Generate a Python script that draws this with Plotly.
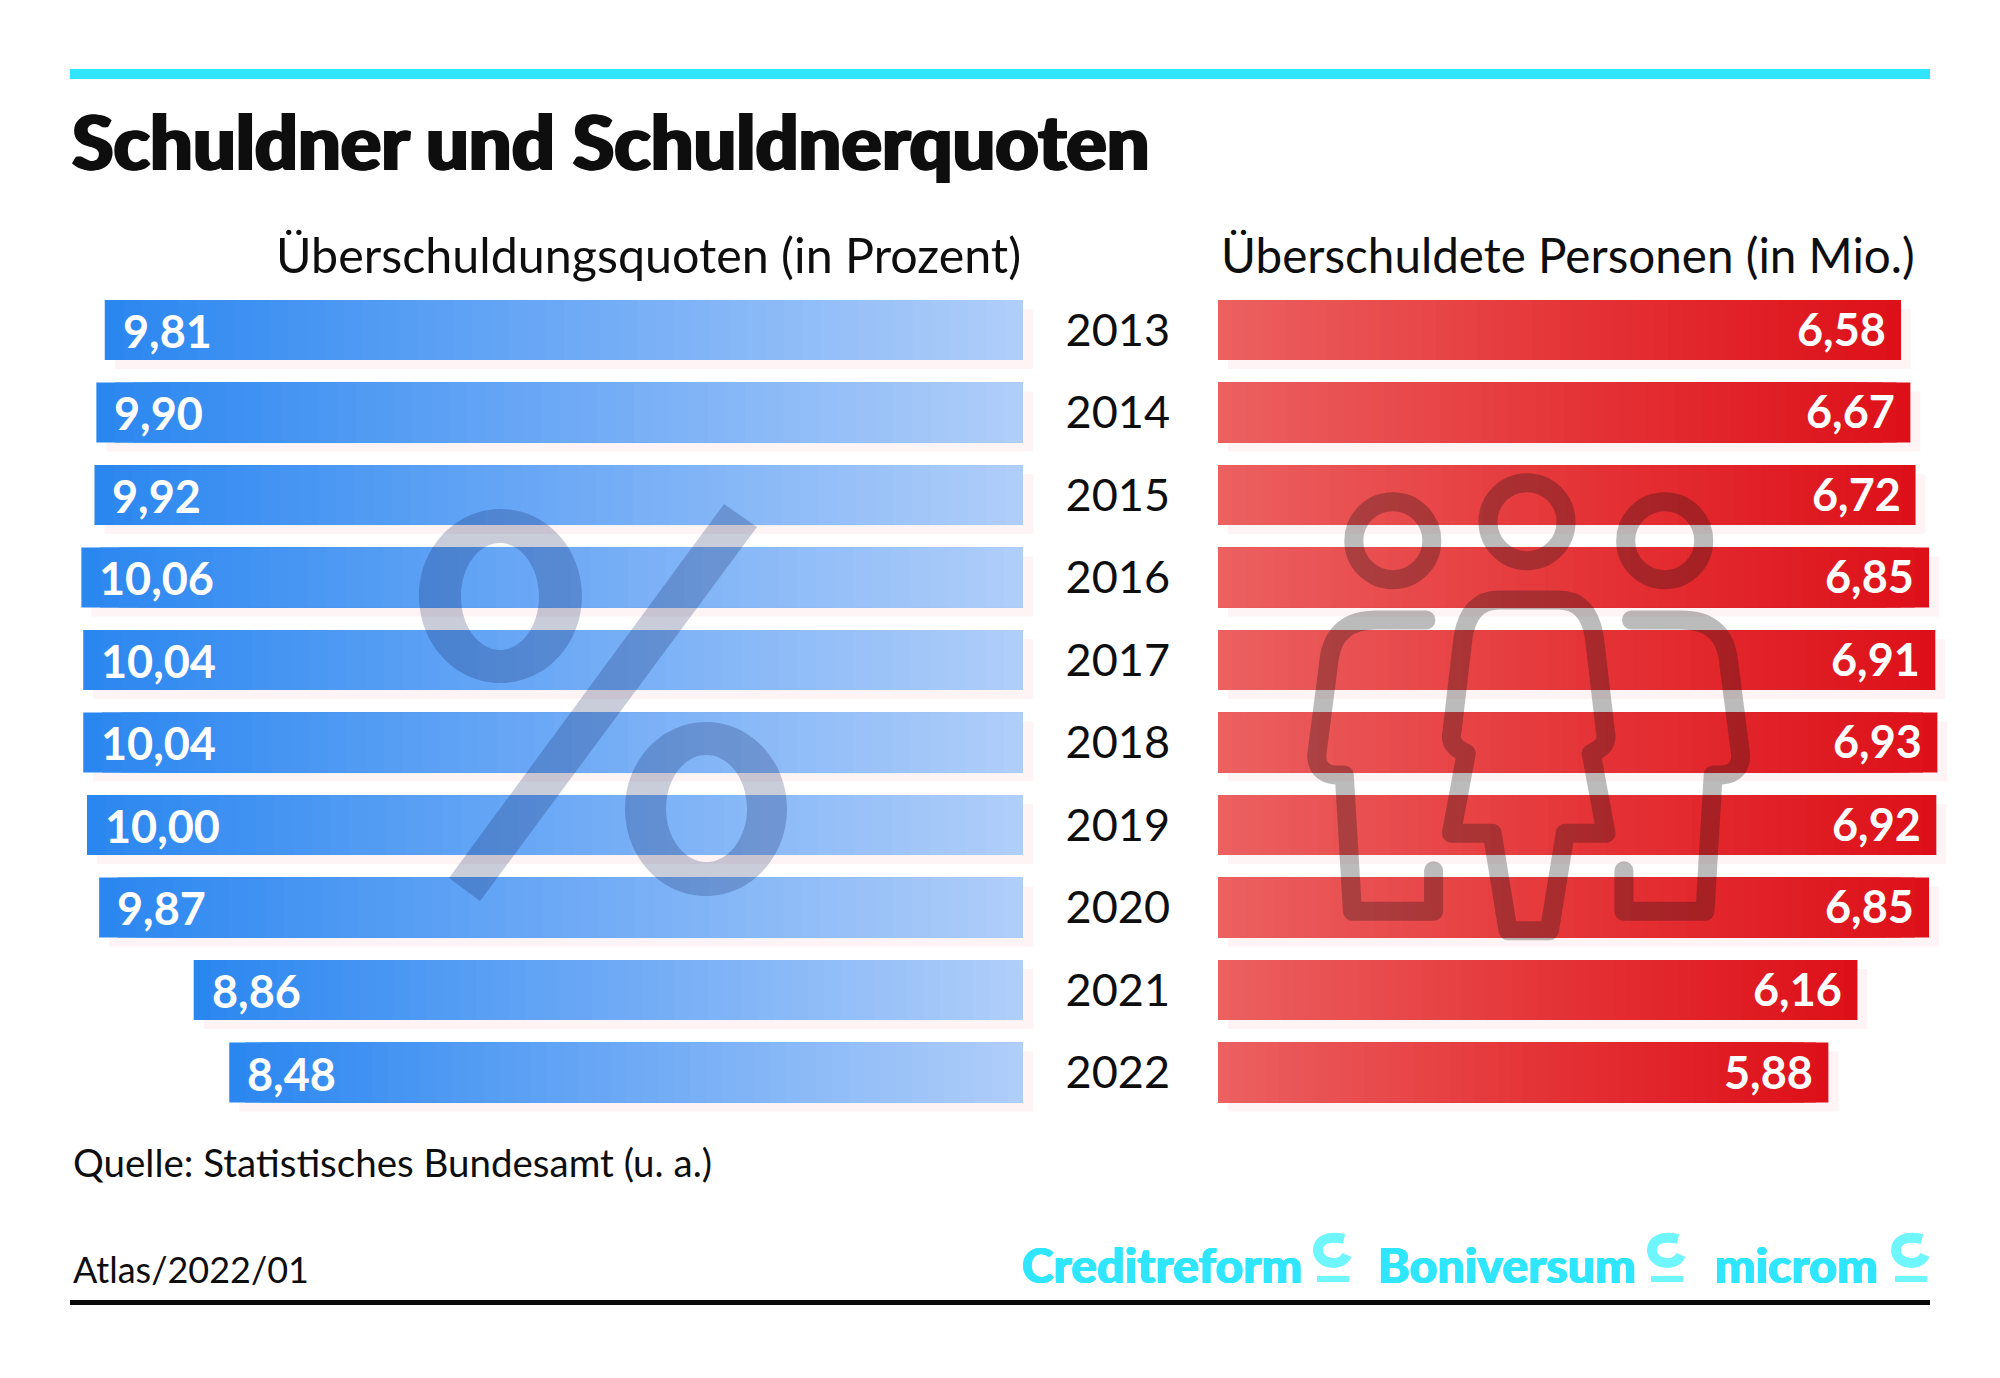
import plotly.graph_objects as go

# ---------- data ----------
years = ["2013", "2014", "2015", "2016", "2017", "2018", "2019", "2020", "2021", "2022"]
quoten = [9.81, 9.90, 9.92, 10.06, 10.04, 10.04, 10.00, 9.87, 8.86, 8.48]
personen = [6.58, 6.67, 6.72, 6.85, 6.91, 6.93, 6.92, 6.85, 6.16, 5.88]
title_text = "Schuldner und Schuldnerquoten"
head_left = "Überschuldungsquoten (in Prozent)"
head_right = "Überschuldete Personen (in Mio.)"
source_text = "Quelle: Statistisches Bundesamt (u. a.)"
atlas_text = "Atlas/2022/01"
brands = ["Creditreform", "Boniversum", "microm"]

# ---------- style ----------
W, H = 2000, 1378
BODY = "Lato, 'Noto Sans', sans-serif"
INK = "#0e0e0e"
CYAN = "#2fe6fe"
CYAN2 = "#6ff6fd"
BLUE_RAMP = [(43, 135, 240), (110, 170, 246), (178, 207, 249)]
RED_RAMP = [(236, 98, 98), (229, 54, 57), (221, 16, 25)]
STEPS = 50
BAR_W = 60 / 82.5


def ramp(stops, t):
    t = max(0.0, min(1.0, t)) * (len(stops) - 1)
    i = min(int(t), len(stops) - 2)
    f = t - i
    c = [round(stops[i][j] + (stops[i + 1][j] - stops[i][j]) * f) for j in range(3)]
    return f"rgb({c[0]},{c[1]},{c[2]})"


def gradient_trace(vals, stops, xa, ya, dark_first):
    # Nested bars from the axis zero: each narrower one repaints the part nearer to zero.
    ys, xs, cols = [], [], []
    for k in range(STEPS):
        frac = 1 - k / STEPS
        for yr, v in zip(years, vals):
            ys.append(yr)
            xs.append(v * frac)
            cols.append(ramp(stops, 1 - frac if dark_first else frac))
    return go.Bar(y=ys, x=xs, orientation="h", width=BAR_W, xaxis=xa, yaxis=ya,
                  marker=dict(color=cols, line=dict(width=0)), hoverinfo="skip", showlegend=False)


def shadow_trace(vals, base, xa, ya):
    return go.Bar(y=years, x=vals, base=base, orientation="h", width=BAR_W,
                  offset=-BAR_W / 2 + 9 / 82.5, xaxis=xa, yaxis=ya,
                  marker=dict(color="#fef4f5", line=dict(width=0)),
                  hoverinfo="skip", showlegend=False)


fig = go.Figure()
fig.add_trace(shadow_trace(quoten, -0.107, "x", "y"))
fig.add_trace(shadow_trace(personen, 0.096, "x2", "y2"))
fig.add_trace(gradient_trace(quoten, BLUE_RAMP, "x", "y", True))
fig.add_trace(gradient_trace(personen, RED_RAMP, "x2", "y2", False))


# ---------- decorative geometry ----------
def fx(px):
    return px / W


def fy(px):
    return 1 - px / H


def P(x, y):
    return f"{fx(x):.5f},{fy(y):.5f}"


def ellipse(x0, y0, x1, y1):
    cx, cy, rx, ry = (x0 + x1) / 2, (y0 + y1) / 2, (x1 - x0) / 2, (y1 - y0) / 2
    k = 0.5523
    return (f"M{P(cx - rx, cy)} C{P(cx - rx, cy - k * ry)} {P(cx - k * rx, cy - ry)} {P(cx, cy - ry)} "
            f"C{P(cx + k * rx, cy - ry)} {P(cx + rx, cy - k * ry)} {P(cx + rx, cy)} "
            f"C{P(cx + rx, cy + k * ry)} {P(cx + k * rx, cy + ry)} {P(cx, cy + ry)} "
            f"C{P(cx - k * rx, cy + ry)} {P(cx - rx, cy + k * ry)} {P(cx - rx, cy)} Z")


shapes = []
ICON = "#0a1550"


def rect(x0, y0, x1, y1, color):
    shapes.append(dict(type="rect", xref="paper", yref="paper", x0=fx(x0), x1=fx(x1), y0=fy(y0), y1=fy(y1),
                       fillcolor=color, line=dict(width=0), layer="above"))


rect(70, 69, 1930, 79, CYAN)
rect(70, 1300, 1930, 1305, "#0a0a0a")

# percent icon
pct = (ellipse(419, 509, 582, 683) + " " + ellipse(461, 543, 539, 650) + " " +
       ellipse(625, 722, 787, 896) + " " + ellipse(666, 755, 747, 862) + " " +
       f"M{P(724, 504)} L{P(757, 527)} L{P(480, 901)} L{P(449, 878)} Z")
shapes.append(dict(type="path", xref="paper", yref="paper", path=pct, fillcolor=ICON, opacity=0.22,
                   line=dict(width=0), layer="above"))


# people icon: traced in a local grid, converted to page pixels
def Z(zx, zy):
    return P(1180 + zx / 1.96, 450 + zy / 3)


def person_side(m):
    f = (lambda x: 1367 - x) if m else (lambda x: x)
    return (f"M{Z(f(497), 1262)} L{Z(f(497), 1384)} L{Z(f(338), 1384)} L{Z(f(322), 975)} "
            f"L{Z(f(305), 975)} Q{Z(f(268), 970)} {Z(f(268), 915)} L{Z(f(293), 620)} "
            f"Q{Z(f(305), 510)} {Z(f(385), 510)} L{Z(f(482), 510)}")


center = (f"M{Z(625, 450)} L{Z(742, 450)} Q{Z(800, 450)} {Z(812, 560)} L{Z(835, 860)} "
          f"Q{Z(835, 890)} {Z(806, 910)} L{Z(835, 1150)} L{Z(755, 1150)} L{Z(724, 1442)} "
          f"L{Z(643, 1442)} L{Z(612, 1150)} L{Z(532, 1150)} L{Z(561, 910)} "
          f"Q{Z(532, 890)} {Z(532, 860)} L{Z(555, 560)} Q{Z(567, 450)} {Z(625, 450)} Z")
people = person_side(False) + " " + person_side(True) + " " + center
for cx, cy in [(1392.8, 540.7), (1527, 521.7), (1664.7, 540.7)]:
    people += " " + ellipse(cx - 39, cy - 39, cx + 39, cy + 39)
shapes.append(dict(type="path", xref="paper", yref="paper", path=people, fillcolor="rgba(0,0,0,0)",
                   opacity=0.28, line=dict(width=19, color="#101010"), layer="above"))

# brand marks
for x0 in [1317, 1651, 1895]:
    rect(x0, 1276, x0 + 32, 1282, CYAN2)
    shapes.append(dict(type="path", xref="paper", yref="paper", fillcolor="rgba(0,0,0,0)",
                       path=(f"M{P(x0 + 27, 1239)} C{P(x0 + 10, 1235)} {P(x0 + 1, 1241)} {P(x0 + 1, 1250)} "
                             f"C{P(x0 + 1, 1264)} {P(x0 + 24, 1268)} {P(x0 + 30, 1255)}"),
                       line=dict(width=10, color=CYAN2), layer="above"))


# ---------- text ----------
def note(text, x, y, size, anchor="left", color=INK, family=BODY, weight=400, **kw):
    return dict(text=text, xref="paper", yref="paper", x=fx(x), y=fy(y), xanchor=anchor, yanchor="middle",
                showarrow=False, font=dict(family=family, size=size, color=color, weight=weight, **kw))


anns = [
    note(title_text, 70, 140, 75.5, family="Lato, sans-serif", weight=900,
         shadow="1.5px 0 0 #0e0e0e, -1.5px 0 0 #0e0e0e"),
    note(head_left, 1023, 254, 48.4, anchor="right"),
    note(head_right, 1219, 254, 47.6),
    note(source_text, 71, 1162, 38.5),
    note(atlas_text, 71, 1269, 36),
]
for name, x in zip(brands, [1020, 1376, 1713]):
    anns.append(note(name, x, 1264, 48.3, color=CYAN, weight=900, family="Lato, sans-serif",
                     shadow=f"0.7px 0 0 {CYAN}, -0.7px 0 0 {CYAN}"))

WHITE = "#ffffff"
# On a category axis a numeric position is the category's index, so rows are addressed by index.
for i, v in enumerate(quoten):
    anns.append(dict(text=f"{v:.2f}".replace(".", ","), xref="x", yref="y", x=v, y=i, xanchor="left",
                     xshift=16, yshift=-1, showarrow=False,
                     font=dict(family=BODY, size=45, color=WHITE, weight=700)))
for i, v in enumerate(personen):
    anns.append(dict(text=f"{v:.2f}".replace(".", ","), xref="x2", yref="y2", x=v, y=i, xanchor="right",
                     xshift=-13, yshift=1, showarrow=False,
                     font=dict(family=BODY, size=45, color=WHITE, weight=700)))

# ---------- layout ----------
ydom = [fy(1113.75), fy(288.75)]
yaxis_common = dict(type="category", categoryorder="array", categoryarray=years, range=[9.5, -0.5],
                    domain=ydom, showgrid=False, zeroline=False, showline=False)
fig.update_layout(
    width=W, height=H, autosize=False, margin=dict(l=0, r=0, t=0, b=0),
    paper_bgcolor="#ffffff", plot_bgcolor="rgba(0,0,0,0)", barmode="overlay", showlegend=False,
    xaxis=dict(domain=[fx(21.46), fx(1041.7)], range=[10.7, -0.2], visible=False, anchor="y"),
    xaxis2=dict(domain=[fx(1218), fx(1965.4)], range=[0, 7.2], visible=False, anchor="y2"),
    yaxis=dict(anchor="x", showticklabels=False, ticks="", **yaxis_common),
    yaxis2=dict(anchor="x2", side="left", ticks="", ticklabelstandoff=47,
                tickfont=dict(family=BODY, size=45, color=INK), **yaxis_common),
    shapes=shapes, annotations=anns,
)

fig.write_html("out.html", config={"displayModeBar": False},
               post_script="document.body.style.margin='0';"
                           "document.querySelectorAll('.shapelayer path').forEach(function(p){"
                           "if(parseFloat(p.style.strokeWidth)>15){p.style.strokeLinecap='round';"
                           "p.style.strokeLinejoin='round';}});")
